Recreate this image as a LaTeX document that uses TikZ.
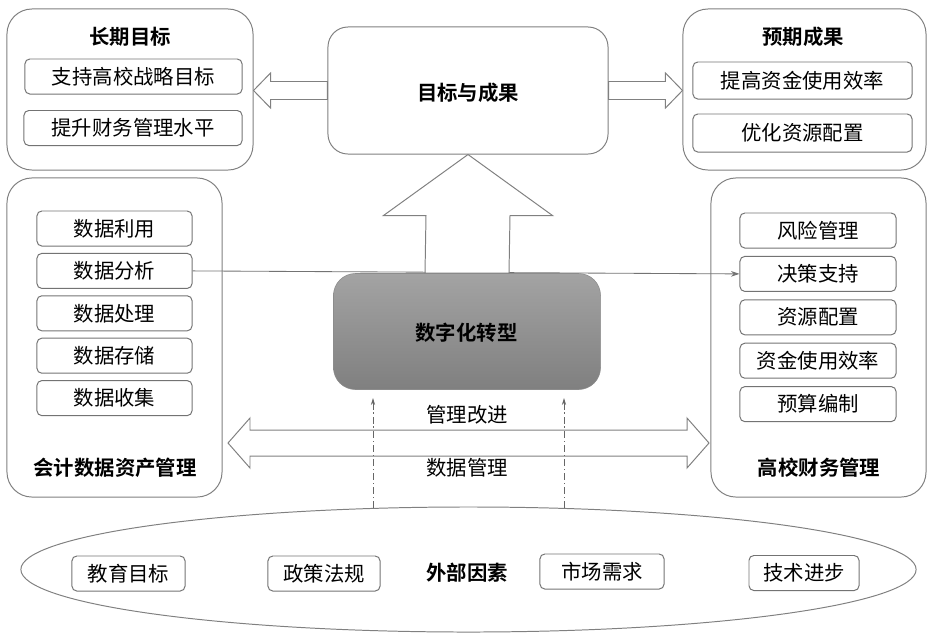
\documentclass[tikz,border=0pt]{standalone}
\usepackage{fontspec}
\setmainfont{Noto Sans CJK SC}[BoldFont={Noto Sans CJK SC Bold}]
\usetikzlibrary{shapes.geometric,arrows.meta,calc}

\begin{document}
\begin{tikzpicture}[x=0.025cm,y=-0.025cm,font=\fontsize{14.5}{17}\selectfont,
	outer/.style={draw=black!50,line width=0.7pt,rounded corners=0.625cm},
	item/.style={draw=black!55,line width=0.7pt,rounded corners=0.12cm,minimum height=0.875cm,inner sep=0pt},
	head/.style={font=\fontsize{14.5}{17}\selectfont\bfseries},
	block/.style={draw=black!50,line width=0.7pt,fill=white},
	dd/.style={draw=black!60,line width=0.6pt,dash pattern=on 5pt off 2pt on 1pt off 2pt,-{Stealth[length=5pt,width=3pt]}}]
	\useasboundingbox (0,0) rectangle (927,633);
	\node[outer,minimum width=6.15cm,minimum height=4.025cm] (longgoal) at (130,89.5) {};
	\node[outer,minimum width=6.075cm,minimum height=4.025cm] (expect) at (804.5,89.5) {};
	\node[outer,minimum width=7cm,minimum height=3.175cm,rounded corners=0.5cm] (goal) at (468,90.5) {};
	\node[head] (goaltxt) at (468,93) {目标与成果};
	\node[head] (longtitle) at (130,37) {长期目标};
	\node[item,minimum width=5.425cm] (lt1) at (133.5,76.5) {支持高校战略目标};
	\node[item,minimum width=5.45cm] (lt2) at (133,128) {提升财务管理水平};
	\node[head] (exptitle) at (803,37) {预期成果};
	\node[item,minimum width=5.475cm,minimum height=0.925cm] (ex1) at (802.5,80.5) {提高资金使用效率};
	\node[item,minimum width=5.475cm,minimum height=0.95cm] (ex2) at (802.5,133) {优化资源配置};
	\draw[block] (longgoal.east |- goal.west) -- ++(17,-17.5) -- ++(0,8.5) -- ($(goal.west)+(0,-9)$)
		-- ($(goal.west)+(0,9)$) -- ($(longgoal.east |- goal.west)+(17,9)$) -- ++(0,8.5) -- cycle;
	\draw[block] (expect.west |- goal.east) -- ++(-17,-17.5) -- ++(0,8.5) -- ($(goal.east)+(0,-9)$)
		-- ($(goal.east)+(0,9)$) -- ($(expect.west |- goal.east)+(-17,9)$) -- ++(0,8.5) -- cycle;
	\node[outer,minimum width=5.375cm,minimum height=7.975cm] (acct) at (114.5,337.5) {};
	\node[outer,minimum width=5.375cm,minimum height=7.975cm] (fin) at (818.5,337.5) {};
	\foreach \t [count=\i] in {数据利用,数据分析,数据处理,数据存储,数据收集}
		\node[item,minimum width=3.875cm] (a\i) at (114.5,{228.5+42.4*(\i-1)}) {\t};
	\foreach \t [count=\i] in {风险管理,决策支持,资源配置,资金使用效率,预算编制}
		\node[item,minimum width=3.9cm] (f\i) at (818,{230.5+43.4*(\i-1)}) {\t};
	\node[head] (accttitle) at (115,468) {会计数据资产管理};
	\node[head] (fintitle) at (819,468) {高校财务管理};
	\draw[draw=black!55,line width=0.6pt,-{Stealth[length=6pt,width=4pt]}] (a2.east) -- (f2.west);
	\node[draw=black!45,rounded corners=0.55cm,top color=black!36,bottom color=black!50,
		minimum width=6.675cm,minimum height=2.9cm] (digital) at (467,331.5) {};
	\node[head] (digtxt) at (466.5,333) {数字化转型};
	\draw[block] (goal.south) -- ++(84.5,61) -- ++(-42.5,0) -- ($(digital.north)+(42,0)$)
		-- ($(digital.north)+(-42,0)$) -- ($(goal.south)+(-42,61)$) -- ++(-42.5,0) -- cycle;
	\coordinate (dl) at (228,443);
	\coordinate (dr) at (709,443);
	\draw[block] (dl) -- ++(22,-25) -- ++(0,12) -- ($(dr)+(-22,-13)$) -- ++(0,-12) -- (dr)
		-- ++(-22,25) -- ++(0,-12) -- ($(dl)+(22,13)$) -- ++(0,12) -- cycle;
	\node (improve) at (467,415) {管理改进};
	\node (datamgmt) at (467,468) {数据管理};
	\node[ellipse,draw=black!50,line width=0.7pt,minimum width=22.375cm,minimum height=3.125cm] (ext) at (468.5,569.5) {};
	\coordinate (u1) at (373,508);
	\coordinate (v1) at (373,398);
	\coordinate (u2) at (564,508);
	\coordinate (v2) at (564,398);
	\draw[dd] (u1) -- (v1);
	\draw[dd] (u2) -- (v2);
	\node[item,minimum width=2.825cm] (e1) at (128.5,573.5) {教育目标};
	\node[item,minimum width=2.8cm] (e2) at (324,573.5) {政策法规};
	\node[head] (exttitle) at (467,573) {外部因素};
	\node[item,minimum width=3.1cm] (e3) at (602,571.5) {市场需求};
	\node[item,minimum width=2.75cm] (e4) at (804,573) {技术进步};
\end{tikzpicture}
\end{document}
